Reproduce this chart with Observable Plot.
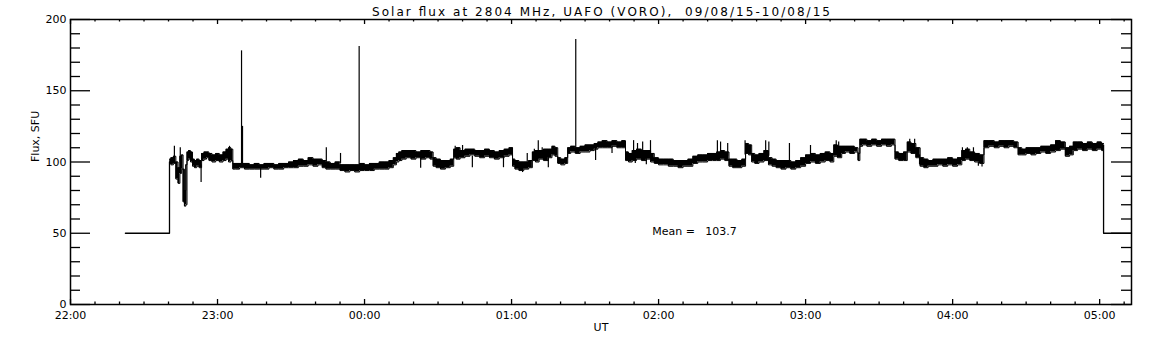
<!DOCTYPE html>
<html>
<head>
<meta charset="utf-8">
<script src="https://cdn.jsdelivr.net/npm/d3@7"></script>
<script src="https://cdn.jsdelivr.net/npm/@observablehq/plot@0.6"></script>
<style>
  html, body { margin: 0; padding: 0; background: #fff; }
  #chart { width: 1152px; height: 345px; }
</style>
</head>
<body>
<div id="chart"></div>
<script>
// ---- data (minutes after 22:00 UT) ----
const titleText = "Solar flux at 2804 MHz, UAFO (VORO),  09/08/15-10/08/15";
const yLabelText = "Flux, SFU";
const xLabelText = "UT";
const meanText = "Mean =   103.7";

const yTickValues = [0, 50, 100, 150, 200];
const xTickValues = [0, 60, 120, 180, 240, 300, 360, 420];
const xTickLabels = ["22:00", "23:00", "00:00", "01:00", "02:00", "03:00", "04:00", "05:00"];
const xEnd = 433;

// off-line (calibration level) segments
const startT = [22.4, 40.4, 40.4];
const startV = [50, 50, 100];
const endT = [421.6, 421.6, 433];
const endV = [112, 50, 50];

// noisy band: time, low edge, high edge
const bandT = [40.5,41.5,42.5,43.5,44.3,45.0,45.7,46.2,46.8,47.3,47.8,48.6,49.4,50.2,51.0,52.0,53.0,54.0,55.0,56.0,57.0,58.5,60.0,61.5,63.0,64.0,65.0,66.0,66.5,68,70,72,74,76,78,80,82,84,86,88,90,92,94,96,98,100,102,103.5,105,107,109,111,113,115,117,119,121,123,125,127,129,131,132.5,133.5,134.5,136,138,140,142,144,146,147.5,148.5,150,152,154,156,156.8,158,160,162,164,166,168,170,172,174,176,178,180,180.8,182,184,186,188,189,190.5,192,194,196,197,198.5,199.2,201,202.5,203.3,205,207,209,211,213,214.5,216,218,220,222,224,226,227,228.5,230,232,234,236,237.5,239,241,243,245,247,249,251,253,255,257,259,261,263,264.5,266,268,269.5,271,273,275,276,277.5,278.5,280,282,284,285.7,287,289,291,293,295,297,299,301,303,305,307,309,311,312,314,315.5,317,319,321,321.8,322.5,324,326,328,330,332,334,336,337,339,341,342,344,346,347.5,349,351,353,355,357,359,361,363,364.5,366,368,370,372,373.6,376,378,380,382,384,386,387.5,389,391,393,395,397,399,401,403,405,407,408.5,410,412,414,416,418,420,421.6];
const bandLo = [99,98,99,88,85,92,95,72,69,70,101,102,100,97,96,97,96,101,102,103,101,100,101,100,101,102,100,101,95,95,96,95,95,95,95,95,96,95,95,96,96,96,97,97,98,97,98,96,95,95,95,94,93,94,93,94,94,94,95,95,95,96,98,100,101,102,103,102,103,102,103,102,97,96,95,96,97,103,102,103,104,105,104,103,104,103,102,103,104,105,97,95,94,95,96,101,100,102,101,103,105,104,99,98,99,106,107,106,107,107,108,109,110,110,110,111,110,110,101,100,101,102,101,102,100,99,98,98,97,97,96,97,97,99,100,100,101,101,101,102,101,97,96,96,97,106,105,100,99,100,101,98,97,96,95,96,95,96,97,99,100,99,100,101,100,104,103,106,107,106,107,101,111,112,111,112,111,112,111,112,102,101,101,107,106,103,97,96,97,97,98,97,98,97,98,101,102,101,100,99,110,111,110,111,110,111,110,105,105,106,105,106,107,106,107,108,109,104,105,108,109,108,109,108,109,108];
const bandHi = [102,103,104,100,96,104,105,95,80,98,107,108,107,102,101,102,101,106,107,107,106,105,106,105,107,109,110,109,99,99,99,99,98,99,98,99,99,98,99,99,100,101,102,101,103,102,102,101,100,99,100,98,98,98,98,99,98,99,99,100,100,101,103,106,107,108,108,108,107,108,108,107,103,102,101,101,102,109,110,108,109,109,108,108,109,108,107,108,109,110,102,101,100,100,101,107,108,108,109,109,111,110,103,102,103,110,111,110,111,112,112,113,114,115,114,115,114,115,107,106,108,109,108,108,106,103,102,102,102,101,101,101,102,104,105,105,106,106,107,108,107,102,102,101,102,113,112,106,105,106,108,103,102,101,101,101,100,101,103,105,106,105,106,107,106,112,111,111,111,111,110,106,116,116,115,116,115,116,116,116,107,106,107,114,113,110,103,102,101,102,102,102,103,102,103,108,109,107,106,105,115,115,114,115,115,115,114,110,109,110,110,110,111,111,112,115,114,110,111,114,114,113,114,113,114,113];

// spikes: time, from, to
const spikeT    = [42.4, 44.8, 53.3, 64.9, 69.8, 70.2, 77.6, 104.4, 110.2, 117.8, 142.9, 157, 158.5, 160, 164, 176.7, 180.3, 184.5, 186.4, 189.3, 190.9, 192.5, 195, 206.2, 214.3, 221, 229.8, 230.5, 231.4, 233.5, 235, 236.7, 264, 265.3, 268.2, 275.3, 283.7, 285, 293.4, 302, 312.5, 313.5, 342.5, 344.5, 346.5, 364, 366, 368.5, 370.5, 372];
const spikeFrom = [102, 100, 98, 106, 98, 98, 97, 100, 99, 98, 103, 104, 104, 104, 104, 104, 105, 98, 100, 103, 106, 103, 104, 110, 110, 111, 105, 102, 105, 105, 103, 104, 104, 104, 104, 105, 104, 104, 100, 104, 106, 106, 108, 108, 105, 103, 103, 102, 100, 100];
const spikeTo   = [111, 110, 85.6, 111, 178, 125, 88.6, 110, 106, 181, 95.6, 111, 110, 111.6, 96, 96, 110, 92.6, 106, 109, 115, 110, 96, 186, 101, 106, 115, 99, 113, 114, 98, 115, 115, 114, 113, 115, 115, 114, 113, 111.6, 115, 114, 116, 116, 98, 110, 110, 110, 97, 96.5];

// ---- build tables ----
const band = bandT.map((t, i) => ({t, lo: bandLo[i], hi: bandHi[i]}));
const spikes = spikeT.map((t, i) => ({t, y1: spikeFrom[i], y2: spikeTo[i]}));
const startSeg = startT.map((t, i) => ({t, v: startV[i]}));
const endSeg = endT.map((t, i) => ({t, v: endV[i]}));

// layout
const W = 1152, H = 345;
const mL = 70, mR = 21, mT = 19, mB = 41;
const kx = xEnd / (W - mL - mR);   // minutes per px
const ky = 200 / (H - mT - mB);    // SFU per px

const yMinor = d3.range(0, 201, 10).filter(v => v % 50 !== 0);
const xMinor = d3.range(0, xEnd, 10).filter(v => v % 60 !== 0);

const yMajLen = 20 * kx, yMinLen = 10 * kx;
const xMajLen = 5 * ky, xMinLen = 2.5 * ky;

const font = "DejaVu Sans, sans-serif";

const chart = Plot.plot({
  width: W, height: H,
  marginLeft: mL, marginRight: mR, marginTop: mT, marginBottom: mB,
  style: {fontFamily: font, fontSize: "11px", background: "#fff", color: "#000"},
  x: {domain: [0, xEnd], axis: null},
  y: {domain: [0, 200], axis: null},
  marks: [
    // band and lines
    Plot.areaY(band, {x: "t", y1: "lo", y2: "hi", curve: "step", fill: "#000"}),
    Plot.line(band, {x: "t", y: "lo", curve: "step", stroke: "#000", strokeWidth: 1}),
    Plot.line(band, {x: "t", y: "hi", curve: "step", stroke: "#000", strokeWidth: 1}),
    Plot.ruleX(spikes, {x: "t", y1: "y1", y2: "y2", stroke: "#000", strokeWidth: 1.2}),
    Plot.line(startSeg, {x: "t", y: "v", stroke: "#000", strokeWidth: 1.3}),
    Plot.line(endSeg, {x: "t", y: "v", stroke: "#000", strokeWidth: 1.3}),
    // y ticks left/right
    Plot.ruleY(yTickValues, {y: d => d, x1: 0, x2: yMajLen, stroke: "#000", strokeWidth: 1.3}),
    Plot.ruleY(yTickValues, {y: d => d, x1: xEnd - yMajLen, x2: xEnd, stroke: "#000", strokeWidth: 1.3}),
    Plot.ruleY(yMinor, {y: d => d, x1: 0, x2: yMinLen, stroke: "#000", strokeWidth: 1.3}),
    Plot.ruleY(yMinor, {y: d => d, x1: xEnd - yMinLen, x2: xEnd, stroke: "#000", strokeWidth: 1.3}),
    // x ticks bottom/top
    Plot.ruleX(xTickValues, {x: d => d, y1: 0, y2: xMajLen, stroke: "#000", strokeWidth: 1.3}),
    Plot.ruleX(xTickValues, {x: d => d, y1: 200 - xMajLen, y2: 200, stroke: "#000", strokeWidth: 1.3}),
    Plot.ruleX(xMinor, {x: d => d, y1: 0, y2: xMinLen, stroke: "#000", strokeWidth: 1.3}),
    Plot.ruleX(xMinor, {x: d => d, y1: 200 - xMinLen, y2: 200, stroke: "#000", strokeWidth: 1.3}),
    Plot.frame({stroke: "#000", strokeWidth: 1.5}),
    // tick labels
    Plot.axisY({ticks: yTickValues, tickSize: 0, tickPadding: 4, fontSize: 11, anchor: "left", label: null}),
    Plot.axisX({ticks: xTickValues, tickFormat: (d) => xTickLabels[xTickValues.indexOf(d)], tickSize: 0, tickPadding: 7, fontSize: 11, anchor: "bottom", label: null}),
    // texts
    Plot.text([titleText], {frameAnchor: "top", dy: -12, fontSize: 12, fill: "#000"}),
    Plot.text([yLabelText], {frameAnchor: "left", dx: -35, rotate: -90, fontSize: 11, fill: "#000"}),
    Plot.text([xLabelText], {frameAnchor: "bottom", dy: 26, fontSize: 11, fill: "#000"}),
    Plot.text([meanText], {frameAnchor: "top-left", dx: 580 + 44, dy: 208, fontSize: 11, fill: "#000", textAnchor: "middle"})
  ]
});
// stretch the title to the reference's wide lettering
d3.select(chart).selectAll("text").filter(function () { return this.textContent === titleText; })
  .attr("textLength", 458).attr("lengthAdjust", "spacing");
document.getElementById("chart").appendChild(chart);
</script>
</body>
</html>
